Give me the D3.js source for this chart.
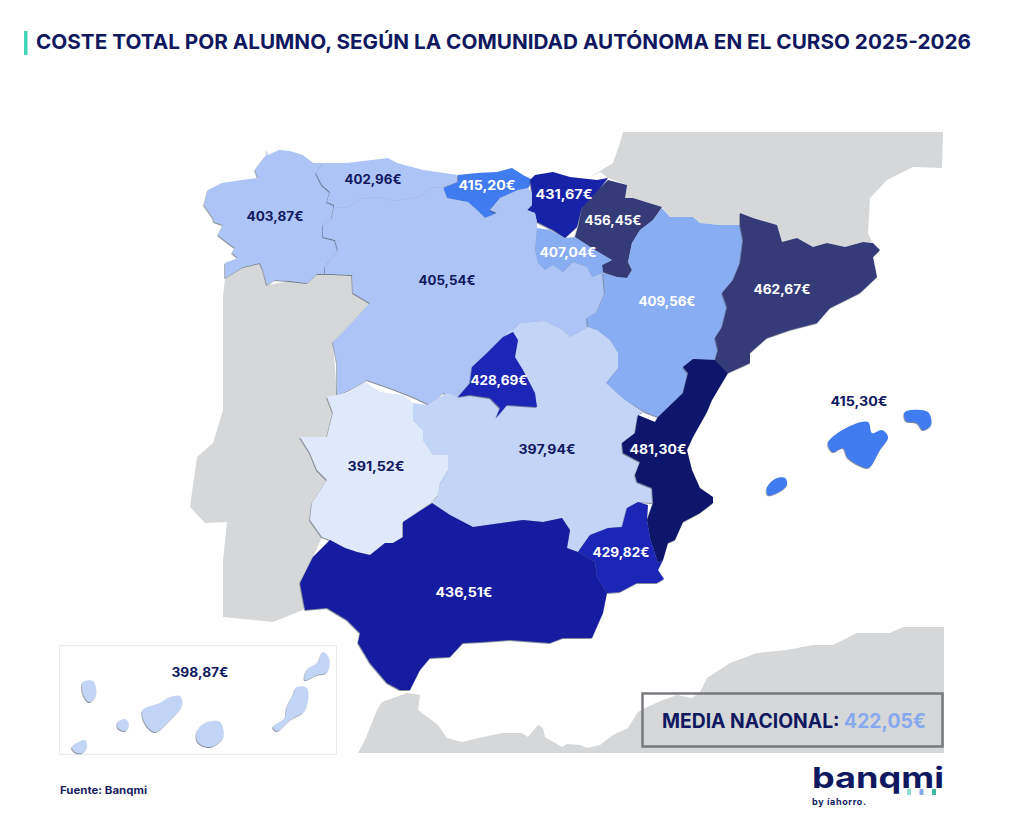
<!DOCTYPE html>
<html>
<head>
<meta charset="utf-8">
<script src="https://cdn.jsdelivr.net/npm/d3@7"></script>
<style>
  html, body { margin: 0; background: #fff; }
  svg { display: block; }
  text { font-family: Inter, "Open Sans", sans-serif; font-weight: 700; }
</style>
</head>
<body>
<script>
var titleText = 'COSTE TOTAL POR ALUMNO, SEGÚN LA COMUNIDAD AUTÓNOMA EN EL CURSO 2025-2026';
var sourceText = 'Fuente: Banqmi';
var averageLabel = 'MEDIA NACIONAL: ';
var averageValue = '422,05€';

var regions = ['Galicia', 'Asturias', 'Cantabria', 'País Vasco', 'Navarra', 'La Rioja', 'Castilla y León', 'Aragón',
    'Cataluña', 'Castilla-La Mancha', 'Madrid', 'Extremadura', 'Valencia', 'Murcia', 'Andalucía', 'Baleares', 'Canarias'];
var costs = [403.87, 402.96, 415.20, 431.67, 456.45, 407.04, 405.54, 409.56,
    462.67, 397.94, 428.69, 391.52, 481.30, 429.82, 436.51, 415.30, 398.87];
var islandRegions = ['Baleares', 'Canarias'];

// colour classes
var costBreaks = [395, 400, 406, 412, 420, 431, 435, 450, 470];
var costColors = ['#e0e9fb', '#c3d5f7', '#adc5f6', '#89adf3', '#3f7cf0', '#1a28b6', '#1422a8', '#141fa0', '#353b78', '#0b136b'];

// outlines, in map units
var outlines = {
    'Galicia': [[[266,150],[268,155],[279,150],[290,151],[303,155],[313,163],[323,163],[316,173],[322,185],[330,192],[327,202],[334,205],[332,218],[323,225],[323,237],[335,240],[338,250],[325,267],[325,274],[317,274],[307,283],[290,281],[275,280],[267,285],[263,270],[260,263],[243,267],[225,278],[225,263],[238,258],[232,253],[235,248],[228,243],[218,235],[223,225],[214,222],[213,218],[204,205],[208,190],[222,183],[242,180],[258,178],[255,170],[260,163],[268,153]]],
    'Asturias': [[[323,163],[347,163],[372,160],[388,158],[397,163],[423,170],[458,175],[458,182],[443,187],[430,188],[420,197],[393,201],[380,197],[360,199],[350,207],[334,208],[334,205],[327,202],[330,192],[322,185],[316,173]]],
    'Cantabria': [[[458,175],[477,173],[497,172],[512,168],[523,175],[533,180],[528,188],[518,190],[500,198],[490,210],[497,213],[485,218],[477,210],[468,202],[447,198],[443,188],[458,182]]],
    'País Vasco': [[[530,180],[535,175],[553,172],[570,177],[597,180],[608,178],[600,188],[598,195],[582,208],[577,227],[565,238],[553,230],[537,222],[535,213],[527,210],[532,205],[532,193]]],
    'Navarra': [[[608,180],[627,185],[625,198],[633,198],[662,207],[653,220],[640,230],[632,243],[628,262],[632,270],[627,278],[617,277],[603,272],[602,265],[612,260],[595,250],[575,237],[578,227],[582,208],[600,188]]],
    'La Rioja': [[[537,228],[550,230],[565,238],[575,237],[595,250],[612,260],[602,265],[603,273],[592,277],[587,267],[573,262],[563,272],[553,265],[545,270],[538,263],[535,250]]],
    'Castilla y León': [[[334,208],[350,207],[360,199],[380,197],[393,201],[420,197],[430,188],[443,187],[447,198],[468,202],[477,210],[485,218],[497,213],[490,210],[500,198],[518,190],[528,188],[532,193],[532,205],[527,210],[535,213],[537,222],[537,228],[535,250],[538,263],[545,270],[553,265],[563,272],[573,262],[587,267],[592,277],[603,273],[605,293],[597,312],[587,318],[588,327],[570,337],[563,330],[545,321],[520,323],[513,332],[503,337],[487,353],[472,367],[470,383],[458,397],[443,393],[430,405],[413,397],[390,388],[367,380],[350,390],[337,395],[337,363],[333,342],[347,328],[370,303],[353,293],[352,275],[333,274],[325,274],[325,267],[338,250],[335,240],[323,237],[323,225],[332,218]]],
    'Aragón': [[[662,208],[670,217],[693,217],[700,223],[720,225],[740,225],[743,240],[740,263],[733,280],[722,293],[727,307],[722,327],[715,338],[718,350],[715,360],[693,359],[683,367],[688,373],[683,393],[658,417],[645,412],[625,400],[617,393],[606,383],[618,368],[618,353],[610,340],[597,330],[588,327],[587,318],[597,312],[605,293],[603,273],[617,277],[627,278],[632,270],[628,262],[632,243],[640,230],[653,220]]],
    'Cataluña': [[[740,213],[753,218],[777,225],[782,242],[797,238],[813,247],[827,243],[845,247],[863,242],[873,243],[880,250],[873,257],[877,277],[860,293],[830,308],[817,323],[790,330],[767,338],[750,353],[750,363],[728,373],[715,360],[718,350],[715,338],[722,327],[727,307],[722,293],[733,280],[740,263],[743,240],[740,225]]],
    'Castilla-La Mancha': [[[513,330],[520,323],[545,321],[563,330],[570,337],[588,327],[597,330],[610,340],[618,353],[618,368],[606,383],[617,393],[625,400],[643,412],[638,415],[635,433],[622,443],[623,453],[640,462],[635,475],[637,482],[652,488],[653,503],[638,502],[627,508],[622,527],[608,528],[590,535],[578,552],[567,548],[570,530],[562,518],[543,522],[523,520],[473,527],[450,515],[432,503],[438,495],[440,483],[448,470],[448,455],[433,455],[423,440],[423,430],[413,420],[413,403],[427,405],[447,393],[458,397],[487,360],[507,333]]],
    'Madrid': [[[458,397],[470,383],[472,367],[487,353],[503,337],[513,332],[518,340],[515,357],[523,370],[535,393],[537,407],[507,405],[496,418],[500,408],[490,398],[470,395]]],
    'Extremadura': [[[365,382],[350,392],[327,397],[333,413],[327,437],[300,437],[310,453],[317,470],[327,480],[312,503],[310,520],[322,537],[330,540],[345,548],[357,552],[370,555],[385,543],[393,543],[403,537],[403,522],[430,503],[438,495],[440,483],[448,470],[448,455],[433,455],[423,440],[423,430],[413,420],[413,403],[403,395],[380,392]]],
    'Valencia': [[[715,360],[728,373],[712,400],[707,412],[693,437],[687,450],[692,470],[700,488],[713,497],[713,503],[700,513],[683,522],[675,540],[668,543],[663,560],[658,563],[650,538],[647,520],[653,503],[652,488],[637,482],[635,475],[640,462],[623,453],[622,443],[635,433],[638,415],[655,422],[658,417],[683,393],[688,373],[683,367],[693,359]]],
    'Murcia': [[[648,505],[638,502],[627,508],[622,527],[608,528],[590,535],[578,552],[595,562],[597,577],[607,593],[620,592],[637,583],[657,583],[664,579],[658,570],[663,560],[658,563],[650,538],[647,520]]],
    'Andalucía': [[[432,503],[450,515],[473,527],[523,520],[543,522],[562,518],[570,530],[567,548],[578,552],[595,562],[597,577],[607,593],[603,613],[592,638],[563,638],[550,643],[510,640],[483,642],[463,643],[450,657],[430,658],[420,670],[410,690],[400,690],[387,683],[370,663],[358,643],[360,633],[347,620],[327,608],[305,610],[300,583],[313,557],[330,540],[345,548],[357,552],[370,555],[385,543],[393,543],[403,537],[403,522]]],
    'Baleares': [
        [[828,443],[848,427],[868,422],[872,433],[882,430],[888,437],[880,450],[870,467],[867,468],[848,458],[843,448],[833,452]],
        [[905,412],[928,412],[931,425],[923,430],[917,423],[906,421]],
        [[785,478],[787,485],[777,493],[768,495],[767,488],[775,479]]],
    'Canarias': [
        [[323,652],[329,658],[327,672],[317,675],[305,680],[307,670],[318,662]],
        [[297,687],[307,688],[305,710],[290,720],[277,731],[273,727],[285,718],[287,707],[293,695]],
        [[205,723],[220,722],[223,738],[210,747],[198,742],[197,732]],
        [[180,696],[182,705],[170,720],[155,732],[145,723],[143,710],[160,703],[170,697]],
        [[118,722],[125,719],[129,725],[125,731],[118,728]],
        [[83,682],[93,681],[96,695],[90,702],[85,698],[82,688]],
        [[72,747],[85,740],[87,747],[82,753],[75,752]]]
};

var neighbours = [
    [[225,278],[243,267],[260,263],[267,285],[290,281],[307,283],[317,274],[352,275],[353,293],[370,303],[347,328],[333,342],[337,395],[327,397],[333,413],[327,437],[300,437],[327,480],[312,503],[322,537],[313,557],[303,610],[273,622],[223,617],[223,560],[227,522],[205,523],[190,507],[197,457],[213,443],[223,410],[223,297]],
    [[623,132],[943,132],[942,168],[913,167],[887,180],[870,198],[868,233],[872,242],[863,242],[845,247],[827,243],[813,247],[797,238],[782,242],[777,225],[753,218],[740,213],[740,225],[720,225],[700,223],[693,217],[670,217],[662,207],[633,198],[625,198],[627,185],[608,178],[600,172],[590,177],[613,163],[620,143]],
    [[358,753],[365,740],[377,710],[382,702],[407,693],[420,695],[418,710],[438,725],[447,738],[462,742],[483,737],[503,733],[522,733],[528,737],[538,725],[543,728],[545,737],[562,747],[567,744],[580,745],[587,748],[600,745],[613,735],[628,728],[638,712],[645,708],[663,700],[677,695],[692,698],[700,692],[707,678],[730,663],[757,653],[787,650],[813,645],[833,645],[857,633],[890,633],[903,627],[944,627],[944,753]]
];

// where each value sits on the map, same order as regions
var labelSpots = [[275,216],[373,179],[487,185],[564,194],[613,220],[568,252],[447,280],[667,301],
    [782,289],[547,449],[499,380],[376,466],[658,449],[621,552],[464,592],[859,401],[200,672]];

var width = 1017, height = 816;
var ink = '#10185f';

var svg = d3.select('body').append('svg')
    .attr('width', width)
    .attr('height', height);

var bevel = svg.append('defs').append('filter')
    .attr('id', 'bevel')
    .attr('x', '-10%').attr('y', '-10%')
    .attr('width', '120%').attr('height', '120%');
bevel.append('feDropShadow')
    .attr('dx', -0.6).attr('dy', 0.9)
    .attr('stdDeviation', 0.6)
    .attr('flood-color', '#3c4658')
    .attr('flood-opacity', 0.7);

var colour = d3.scaleThreshold().domain(costBreaks).range(costColors);
var mapPath = d3.geoPath(d3.geoIdentity());

// islands read better rounded off
var islandLine = d3.line().curve(d3.curveCatmullRomClosed.alpha(0.5));

// geojson rings have to repeat their first point
var closeRing = function(ring) {
    return ring.concat([ring[0]]);
};

var isIsland = function(name) {
    return islandRegions.indexOf(name) >= 0;
};

// title
svg.append('rect').attr('x', 24).attr('y', 31).attr('width', 3.5).attr('height', 24).attr('fill', '#3fd6b8');
svg.append('text')
    .attr('x', 36).attr('y', 49)
    .attr('font-size', 20.5)
    .attr('font-weight', 800)
    .attr('textLength', 935)
    .attr('lengthAdjust', 'spacingAndGlyphs')
    .attr('fill', ink)
    .text(titleText);

// grey countries around
svg.append('g').selectAll('path')
    .data(neighbours)
    .join('path')
    .attr('d', function(d) { return mapPath({type: 'Polygon', coordinates: [closeRing(d)]}); })
    .attr('fill', '#d5d7d9');

// canaries box
svg.append('rect')
    .attr('x', 59.5).attr('y', 645.5).attr('width', 277).attr('height', 109)
    .attr('fill', '#fff').attr('stroke', '#e8eaef');

var features = regions.map(function(name, i) {
    return {
        type: 'Feature',
        properties: {name: name, cost: costs[i], spot: labelSpots[i]},
        geometry: {type: 'MultiPolygon', coordinates: outlines[name].map(function(ring) { return [closeRing(ring)]; })}
    };
});

svg.append('g').selectAll('path')
    .data(features)
    .join('path')
    .attr('d', function(d) {
        if (isIsland(d.properties.name)) return outlines[d.properties.name].map(islandLine).join('');
        return mapPath(d);
    })
    .attr('fill', function(d) { return colour(d.properties.cost); })
    .attr('filter', 'url(#bevel)');

var euro = d3.formatLocale({decimal: ',', thousands: '.', grouping: [3], currency: ['', '€']}).format('$.2f');

svg.append('g').selectAll('text')
    .data(features)
    .join('text')
    .attr('x', function(d) { return d.properties.spot[0]; })
    .attr('y', function(d) { return d.properties.spot[1]; })
    .attr('dy', '0.36em')
    .attr('text-anchor', 'middle')
    .attr('font-size', 13)
    .attr('textLength', 57)
    .attr('lengthAdjust', 'spacingAndGlyphs')
    .attr('fill', function(d) {
        if (isIsland(d.properties.name)) return ink;
        return d.properties.cost > 406 ? '#fff' : ink;
    })
    .text(function(d) { return euro(d.properties.cost); });

// national average box
svg.append('rect')
    .attr('x', 642.5).attr('y', 693.5).attr('width', 300).attr('height', 53)
    .attr('fill', 'none').attr('stroke', '#77797d').attr('stroke-width', 2.5);
var average = svg.append('text')
    .attr('x', 662).attr('y', 728)
    .attr('font-size', 19.5)
    .attr('textLength', 264)
    .attr('lengthAdjust', 'spacingAndGlyphs')
    .attr('fill', ink);
average.append('tspan').text(averageLabel);
average.append('tspan').attr('fill', '#86a9ee').text(averageValue);

svg.append('text')
    .attr('x', 60).attr('y', 794)
    .attr('font-size', 10.5)
    .attr('textLength', 87)
    .attr('lengthAdjust', 'spacingAndGlyphs')
    .attr('fill', '#1b1f63')
    .text(sourceText);

// logo
svg.append('text')
    .attr('x', 812).attr('y', 788)
    .attr('font-size', 29)
    .attr('textLength', 132)
    .attr('lengthAdjust', 'spacingAndGlyphs')
    .attr('fill', '#10185f')
    .text('banqmi');
svg.append('text')
    .attr('x', 812).attr('y', 805)
    .attr('font-size', 9)
    .attr('textLength', 54)
    .attr('fill', '#10185f')
    .text('by íahorro.');
svg.append('g').selectAll('rect')
    .data(['#8fdcd4', '#86a9ee', '#3fb8a0'])
    .join('rect')
    .attr('x', function(d, i) { return 907 + i * 12.5; })
    .attr('y', 789)
    .attr('width', 4).attr('height', 6)
    .attr('fill', function(d) { return d; });
</script>
</body>
</html>
